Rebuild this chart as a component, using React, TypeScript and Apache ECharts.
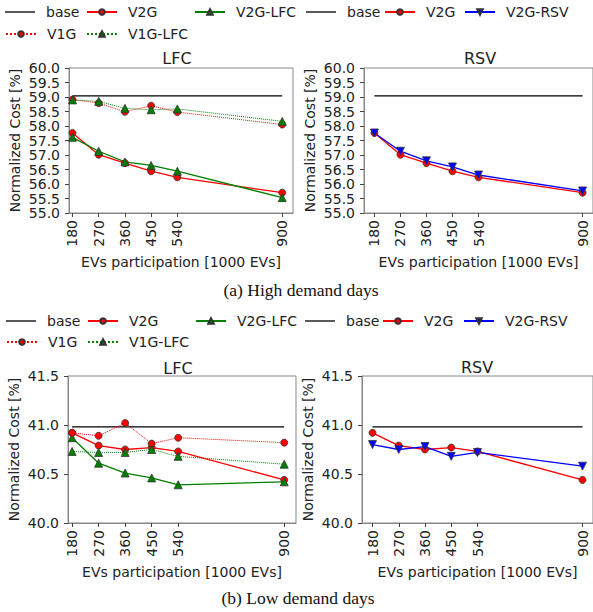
import React, { useEffect, useRef } from "react";
import * as echarts from "echarts";

const participation = [180, 270, 360, 450, 540, 900];
const yTicksHigh = [55, 60];
const yTicksLow = [40, 41.5];

const highBase = [59.04, 59.04, 59.04, 59.04, 59.04, 59.04];
const highV2G = [57.76, 57.01, 56.72, 56.44, 56.23, 55.7];
const highV2GLFC = [57.61, 57.13, 56.76, 56.64, 56.44, 55.53];
const highV1G = [58.91, 58.79, 58.49, 58.7, 58.48, 58.05];
const highV1GLFC = [58.9, 58.85, 58.61, 58.56, 58.59, 58.16];
const highV2GRSV = [57.76, 57.13, 56.8, 56.59, 56.31, 55.76];

const lowBase = [40.98, 40.98, 40.98, 40.98, 40.98, 40.98];
const lowV2G = [40.92, 40.79, 40.75, 40.77, 40.73, 40.44];
const lowV2GLFC = [40.87, 40.61, 40.51, 40.46, 40.39, 40.42];
const lowV1G = [40.92, 40.89, 41.02, 40.81, 40.87, 40.82];
const lowV1GLFC = [40.73, 40.72, 40.72, 40.75, 40.68, 40.6];
const lowV2GRSV = [40.8, 40.75, 40.78, 40.68, 40.72, 40.58];

const panelTitles = ["LFC", "RSV", "LFC", "RSV"];
const captions = ["(a) High demand days", "(b) Low demand days"];

const FONT = "DejaVu Sans";
const TXT = "#222";
const SPINE = "#888";

const RED = "#ff0000";
const GREEN = "#008000";
const BLUE = "#0000ff";
const EDGE = "#333";

const pairs = (ys: number[]) => participation.map((x, i) => [x, ys[i]]);

type Style = { color: string; symbol: string; rotate?: number; dotted?: boolean; size: number };
const styles: Record<string, Style> = {
  base: { color: "#000", symbol: "none", size: 0 },
  V2G: { color: RED, symbol: "circle", size: 7 },
  "V2G-LFC": { color: GREEN, symbol: "triangle", size: 8 },
  V1G: { color: RED, symbol: "circle", size: 7, dotted: true },
  "V1G-LFC": { color: GREEN, symbol: "triangle", size: 8, dotted: true },
  "V2G-RSV": { color: BLUE, symbol: "triangle", rotate: 180, size: 8 },
};

function mkSeries(name: string, idx: number, ys: number[]) {
  const s = styles[name];
  return {
    type: "line",
    name,
    xAxisIndex: idx,
    yAxisIndex: idx,
    data: pairs(ys),
    symbol: s.symbol,
    symbolSize: s.size,
    symbolRotate: s.rotate || 0,
    showSymbol: s.symbol !== "none",
    color: s.color,
    lineStyle: {
      color: s.color,
      width: s.dotted ? 1 : 1.3,
      type: s.dotted ? "dotted" : "solid",
    },
    itemStyle: { color: s.color, borderColor: EDGE, borderWidth: s.symbol === "none" ? 0 : 0.8 },
    emphasis: { disabled: true },
    silent: true,
  };
}

const grids = [
  { left: 69, top: 68, width: 224, height: 145, xmin: 168, xmax: 937 },
  { left: 364, top: 68, width: 232, height: 145, xmin: 144, xmax: 936 },
  { left: 68, top: 376, width: 228, height: 147, xmin: 166, xmax: 940 },
  { left: 362, top: 376, width: 232, height: 147, xmin: 144, xmax: 936 },
];

function legendItem(name: string, left: number, yc: number) {
  const isBase = name === "base";
  return {
    data: [name],
    left,
    top: yc - 8,
    padding: 0,
    itemWidth: 30,
    itemHeight: isBase ? 1.3 : 7,
    icon: isBase ? "rect" : undefined,
    selectedMode: false,
    textStyle: { fontFamily: FONT, fontSize: 14, color: TXT, padding: [0, 0, 0, 6] },
  };
}

export default function App() {
  const ref = useRef<HTMLDivElement>(null);
  useEffect(() => {
    if (!ref.current) return;
    const chart = echarts.init(ref.current, null, { renderer: "svg" });
    const yRanges = [yTicksHigh, yTicksHigh, yTicksLow, yTicksLow];
    const option: any = {
      animation: false,
      grid: grids.map((g) => ({
        left: g.left,
        top: g.top,
        width: g.width,
        height: g.height,
        show: true,
        borderColor: SPINE,
        borderWidth: 1,
        containLabel: false,
      })),
      xAxis: grids.map((g, i) => ({
        type: "value",
        gridIndex: i,
        min: g.xmin,
        max: g.xmax,
        name: "EVs participation [1000 EVs]",
        nameLocation: "middle",
        nameGap: 42,
        nameTextStyle: { fontFamily: FONT, fontSize: 14, color: TXT },
        splitLine: { show: false },
        axisLine: { show: true, lineStyle: { color: SPINE, width: 1 } },
        axisTick: { show: true, length: 4, lineStyle: { color: "#444" }, customValues: participation },
        axisLabel: {
          customValues: participation,
          rotate: 90,
          margin: 7,
          fontFamily: FONT,
          fontSize: 14,
          color: TXT,
        },
      })),
      yAxis: grids.map((g, i) => ({
        type: "value",
        gridIndex: i,
        min: yRanges[i][0],
        max: yRanges[i][1],
        interval: 0.5,
        name: "Normalized Cost [%]",
        nameLocation: "middle",
        nameGap: 47,
        nameTextStyle: { fontFamily: FONT, fontSize: 14, color: TXT },
        splitLine: { show: false },
        axisLine: { show: true, lineStyle: { color: SPINE, width: 1 } },
        axisTick: { show: true, length: 4, lineStyle: { color: "#444" } },
        axisLabel: {
          margin: 9,
          fontFamily: FONT,
          fontSize: 14,
          color: TXT,
          showMinLabel: true,
          showMaxLabel: true,
          hideOverlap: false,
          formatter: (v: number) => v.toFixed(1),
        },
      })),
      legend: [
        legendItem("base", 5, 13),
        legendItem("V2G", 86, 13),
        legendItem("V2G-LFC", 194, 13),
        legendItem("V1G", 5, 35),
        legendItem("V1G-LFC", 86, 35),
        legendItem("base", 306, 13),
        legendItem("V2G", 384, 13),
        legendItem("V2G-RSV", 464, 13),
        legendItem("base", 6, 322),
        legendItem("V2G", 87, 322),
        legendItem("V2G-LFC", 195, 322),
        legendItem("V1G", 6, 343),
        legendItem("V1G-LFC", 87, 343),
        legendItem("base", 305, 322),
        legendItem("V2G", 382, 322),
        legendItem("V2G-RSV", 463, 322),
      ],
      series: [
        mkSeries("base", 0, highBase),
        mkSeries("V2G", 0, highV2G),
        mkSeries("V2G-LFC", 0, highV2GLFC),
        mkSeries("V1G", 0, highV1G),
        mkSeries("V1G-LFC", 0, highV1GLFC),
        mkSeries("base", 1, highBase),
        mkSeries("V2G", 1, highV2G),
        mkSeries("V2G-RSV", 1, highV2GRSV),
        mkSeries("base", 2, lowBase),
        mkSeries("V2G", 2, lowV2G),
        mkSeries("V2G-LFC", 2, lowV2GLFC),
        mkSeries("V1G", 2, lowV1G),
        mkSeries("V1G-LFC", 2, lowV1GLFC),
        mkSeries("base", 3, lowBase),
        mkSeries("V2G", 3, lowV2G),
        mkSeries("V2G-RSV", 3, lowV2GRSV),
      ],
      graphic: [
        ...[
          [177, 58],
          [480, 58],
          [178, 368],
          [477, 367],
        ].map((p, i) => ({
          type: "text",
          x: p[0],
          y: p[1],
          silent: true,
          style: {
            text: panelTitles[i],
            fontFamily: FONT,
            fontSize: 16,
            fill: TXT,
            align: "center",
            verticalAlign: "middle",
          },
        })),
        ...[
          [301, 290],
          [298, 598],
        ].map((p, i) => ({
          type: "text",
          x: p[0],
          y: p[1],
          silent: true,
          style: {
            text: captions[i],
            fontFamily: "Liberation Serif",
            fontSize: 17.5,
            fill: "#111",
            align: "center",
            verticalAlign: "middle",
          },
        })),
      ],
    };
    chart.setOption(option);
    return () => chart.dispose();
  }, []);
  return (
    <div
      ref={ref}
      style={{ position: "fixed", left: 0, top: 0, width: 593, height: 612, background: "#fff" }}
    />
  );
}
